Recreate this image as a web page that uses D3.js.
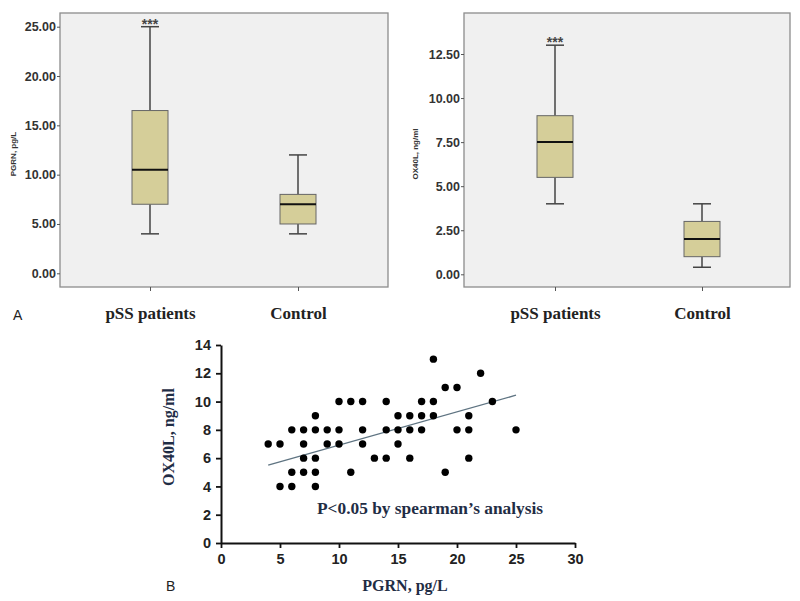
<!DOCTYPE html>
<html><head><meta charset="utf-8">
<script src="https://cdnjs.cloudflare.com/ajax/libs/d3/7.8.5/d3.min.js"></script>
<style>body{margin:0;background:#fff}svg{display:block}</style>
</head><body>
<script>
// ---- Data ----
const groups = ["pSS patients", "Control"];
// box stats: [min, q1, median, q3, max]
const pgrnStats = [[4, 7, 10.5, 16.5, 25], [4, 5, 7, 8, 12]];
const ox40lStats = [[4, 5.5, 7.5, 9, 13], [0.4, 1, 2, 3, 4]];
const pgrnTicks = [0, 5, 10, 15, 20, 25];
const ox40lTicks = [0, 2.5, 5, 7.5, 10, 12.5];
const scatterX = [18, 22, 19, 20,
  10, 11, 12, 14, 17, 18, 23,
  8, 15, 16, 17, 18, 21,
  6, 7, 8, 9, 10, 12, 14, 15, 16, 17, 20, 21, 25,
  4, 5, 7, 9, 10, 12, 15,
  7, 8, 13, 14, 16, 21,
  6, 7, 8, 11, 19,
  5, 6, 8];
const scatterY = [13, 12, 11, 11,
  10, 10, 10, 10, 10, 10, 10,
  9, 9, 9, 9, 9, 9,
  8, 8, 8, 8, 8, 8, 8, 8, 8, 8, 8, 8, 8,
  7, 7, 7, 7, 7, 7, 7,
  6, 6, 6, 6, 6, 6,
  5, 5, 5, 5, 5,
  4, 4, 4];
const trendX = [4, 25];
const trendY = [5.5, 10.45];
const scatterXTicks = [0, 5, 10, 15, 20, 25, 30];
const scatterYTicks = [0, 2, 4, 6, 8, 10, 12, 14];

const svg = d3.select("body").append("svg").attr("width", 800).attr("height", 601);

function boxPanel(cfg) {
  const g = svg.append("g");
  const x = d3.scalePoint().domain(groups).range(cfg.catRange);
  const y = d3.scaleLinear().domain(cfg.domain).range(cfg.yRange);
  g.append("rect").attr("x", cfg.left).attr("y", cfg.top)
    .attr("width", cfg.right - cfg.left).attr("height", cfg.bottom - cfg.top)
    .attr("fill", "#f0f0f0").attr("stroke", "#8c8c8c").attr("stroke-width", 1.3);
  const ya = g.append("g").attr("transform", `translate(${cfg.left},0)`)
    .call(d3.axisLeft(y).tickValues(cfg.ticks).tickFormat(d3.format(".2f")).tickSize(3).tickPadding(1));
  ya.select(".domain").remove();
  ya.selectAll("line").attr("stroke", "#555");
  ya.selectAll("text").attr("font-family", "Liberation Sans, Arial, sans-serif")
    .attr("font-weight", "bold").attr("font-size", 12.5).attr("fill", "#333");
  const xa = g.append("g").attr("transform", `translate(0,${cfg.bottom})`)
    .call(d3.axisBottom(x).tickSize(4).tickPadding(16));
  xa.select(".domain").remove();
  xa.selectAll("line").attr("stroke", "#555");
  xa.selectAll("text").attr("font-family", "Liberation Serif, serif")
    .attr("font-weight", "bold").attr("font-size", 17).attr("fill", "#222");
  g.append("text").attr("transform", `translate(${cfg.titleX},${(cfg.top + cfg.bottom) / 2 + 4}) rotate(-90)`)
    .attr("text-anchor", "middle").attr("font-family", "Liberation Sans, Arial, sans-serif")
    .attr("font-weight", "bold").attr("font-size", 8).attr("fill", "#333").text(cfg.title);
  const bw = 36, cw = 18;
  cfg.stats.forEach((s, i) => {
    const cx = x(groups[i]);
    const bg = g.append("g");
    bg.append("line").attr("x1", cx).attr("x2", cx).attr("y1", y(s[0])).attr("y2", y(s[1])).attr("stroke", "#444").attr("stroke-width", 1.5);
    bg.append("line").attr("x1", cx).attr("x2", cx).attr("y1", y(s[3])).attr("y2", y(s[4])).attr("stroke", "#444").attr("stroke-width", 1.5);
    bg.append("line").attr("x1", cx - cw / 2).attr("x2", cx + cw / 2).attr("y1", y(s[0])).attr("y2", y(s[0])).attr("stroke", "#444").attr("stroke-width", 1.5);
    bg.append("line").attr("x1", cx - cw / 2).attr("x2", cx + cw / 2).attr("y1", y(s[4])).attr("y2", y(s[4])).attr("stroke", "#444").attr("stroke-width", 1.5);
    bg.append("rect").attr("x", cx - bw / 2).attr("width", bw).attr("y", y(s[3])).attr("height", y(s[1]) - y(s[3]))
      .attr("fill", "#d5ce99").attr("stroke", "#666").attr("stroke-width", 1);
    bg.append("line").attr("x1", cx - bw / 2).attr("x2", cx + bw / 2).attr("y1", y(s[2])).attr("y2", y(s[2])).attr("stroke", "#111").attr("stroke-width", 2);
    if (i === 0) {
      bg.append("text").attr("x", cx).attr("y", y(s[4]) + 2).attr("text-anchor", "middle")
        .attr("font-family", "Liberation Sans, Arial, sans-serif").attr("font-weight", "bold")
        .attr("font-size", 14).attr("fill", "#444").text("***");
    }
  });
}

boxPanel({ left: 60, right: 388, top: 13, bottom: 287, domain: [0, 25], yRange: [273.3, 26.7], ticks: pgrnTicks,
  stats: pgrnStats, catRange: [150, 298], title: "PGRN, pg/L", titleX: 16 });
boxPanel({ left: 464, right: 790, top: 13, bottom: 287, domain: [0, 12.5], yRange: [274.3, 54], ticks: ox40lTicks,
  stats: ox40lStats, catRange: [555, 702], title: "OX40L, ng/ml", titleX: 418 });
svg.append("text").attr("x", 13).attr("y", 320).attr("font-family", "Liberation Sans, Arial, sans-serif")
  .attr("font-size", 14).attr("fill", "#222").text("A");

// ---- Scatter ----
const sx = d3.scaleLinear().domain([0, 30]).range([221, 575]);
const sy = d3.scaleLinear().domain([0, 14]).range([543, 345]);
const sg = svg.append("g");
const xAx = sg.append("g").attr("transform", "translate(0,543)")
  .call(d3.axisBottom(sx).tickValues(scatterXTicks).tickSize(5).tickSizeOuter(0).tickPadding(6));
const yAx = sg.append("g").attr("transform", "translate(221,0)")
  .call(d3.axisLeft(sy).tickValues(scatterYTicks).tickSize(5).tickSizeOuter(0).tickPadding(5));
[xAx, yAx].forEach(a => {
  a.select(".domain").attr("stroke", "#111").attr("stroke-width", 2);
  a.selectAll("line").attr("stroke", "#111").attr("stroke-width", 1.8);
  a.selectAll("text").attr("font-family", "Liberation Sans, Arial, sans-serif")
    .attr("font-weight", "bold").attr("font-size", 14.5).attr("fill", "#222");
});
sg.append("line").attr("x1", sx(trendX[0])).attr("y1", sy(trendY[0])).attr("x2", sx(trendX[1])).attr("y2", sy(trendY[1]))
  .attr("stroke", "#5f7482").attr("stroke-width", 1.3);
sg.selectAll("circle.pt").data(scatterX.map((v, i) => [v, scatterY[i]])).enter().append("circle")
  .attr("class", "pt").attr("cx", d => sx(d[0])).attr("cy", d => sy(d[1])).attr("r", 3.7).attr("fill", "#000");
sg.append("text").attr("x", 405).attr("y", 591).attr("text-anchor", "middle")
  .attr("font-family", "Liberation Serif, serif").attr("font-weight", "bold").attr("font-size", 16)
  .attr("fill", "#1f2d45").text("PGRN, pg/L");
sg.append("text").attr("transform", "translate(174,437) rotate(-90)").attr("text-anchor", "middle")
  .attr("font-family", "Liberation Serif, serif").attr("font-weight", "bold").attr("font-size", 16)
  .attr("fill", "#1f2d45").text("OX40L, ng/ml");
sg.append("text").attr("x", 317).attr("y", 514).attr("textLength", 226).attr("lengthAdjust", "spacingAndGlyphs")
  .attr("font-family", "Liberation Serif, serif").attr("font-weight", "bold").attr("font-size", 16.5)
  .attr("fill", "#1f2d45").text("P<0.05 by spearman\u2019s analysis");
svg.append("text").attr("x", 166).attr("y", 591).attr("font-family", "Liberation Sans, Arial, sans-serif")
  .attr("font-size", 14).attr("fill", "#222").text("B");
</script>
</body></html>
